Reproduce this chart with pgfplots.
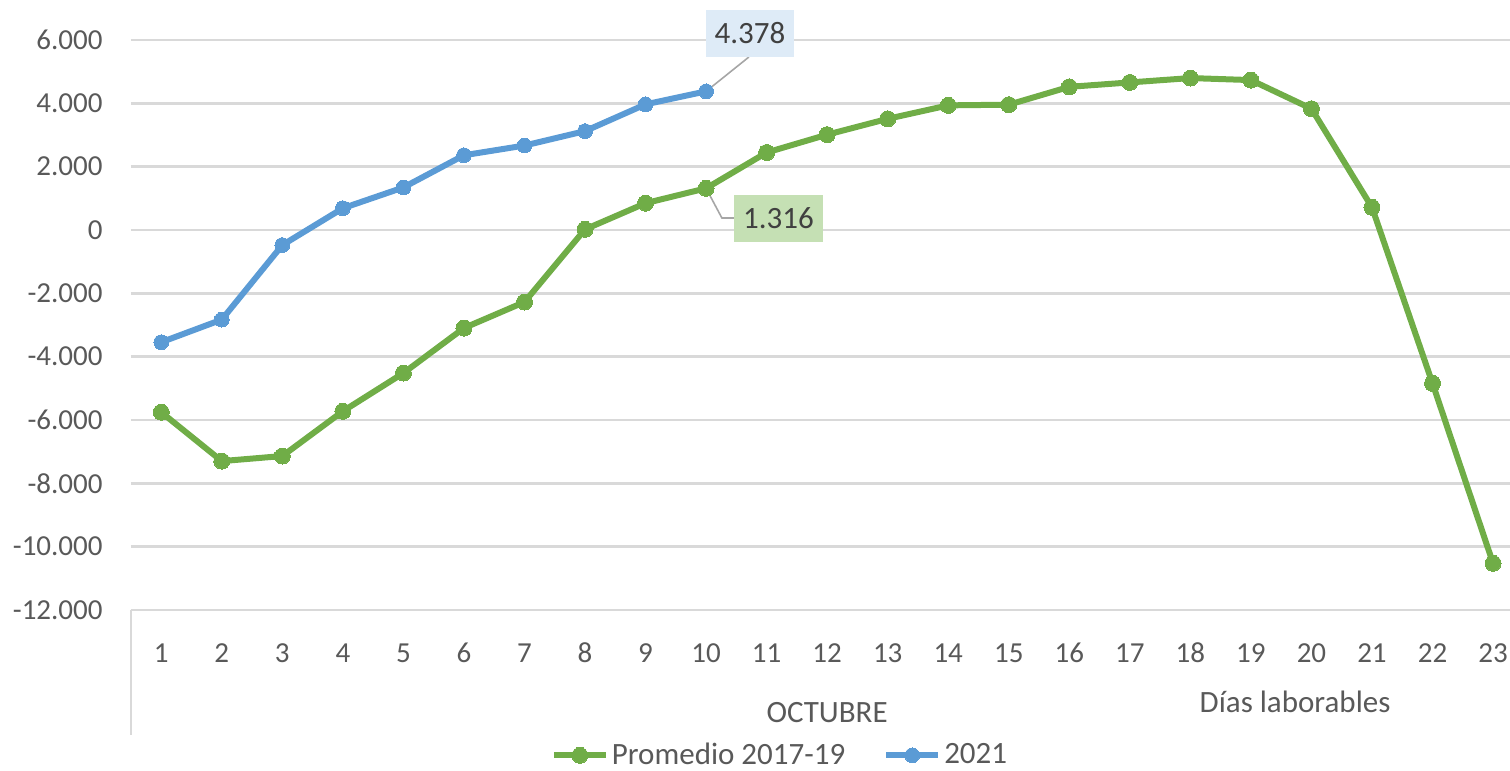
\documentclass[border=0pt]{standalone}
\usepackage{pgfplots}
\pgfplotsset{compat=1.18}
\usepackage{fontspec}
\setmainfont{Carlito}
\definecolor{xlgreen}{HTML}{70AD47}
\definecolor{xlblue}{HTML}{5B9BD5}
\definecolor{gridgray}{HTML}{D9D9D9}
\definecolor{ticktext}{HTML}{595959}
\definecolor{labtext}{HTML}{404040}
\definecolor{bluefill}{HTML}{DEEBF7}
\definecolor{greenfill}{HTML}{C5E0B4}
\definecolor{leader}{HTML}{A6A6A6}
\begin{document}
\begin{tikzpicture}
\useasboundingbox (-65.5pt,-80.5pt) rectangle (689.5pt,305pt);
\begin{axis}[
  scale only axis,
  width=689.5pt, height=285pt,
  xmin=0.5, xmax=23.28,
  ymin=-12000, ymax=6000,
  xtick={1,...,23},
  xticklabels={1,2,3,4,5,6,7,8,9,10,11,12,13,14,15,16,17,18,19,20,21,22,23},
  ytick={-12000,-10000,-8000,-6000,-4000,-2000,0,2000,4000,6000},
  yticklabels={-12.000,-10.000,-8.000,-6.000,-4.000,-2.000,0,2.000,4.000,6.000},
  scaled y ticks=false,
  ymajorgrids,
  grid style={gridgray, line width=1.2pt},
  axis line style={draw=none},
  major tick length=0pt,
  tick label style={font=\fontsize{14.5}{17}\selectfont, text=ticktext},
  yticklabel style={anchor=east, inner sep=0pt, xshift=-14pt},
  xticklabel style={anchor=base, inner sep=0pt, yshift=-26pt},
  clip=false,
  legend columns=2,
  legend style={at={(0.471,-0.255)}, anchor=center, draw=none, fill=none,
    font=\fontsize{15.5}{18}\selectfont, text=ticktext,
    nodes={inner sep=1.5pt},
    /tikz/every even column/.append style={column sep=17.5pt}},
  legend image code/.code={
    \draw[#1, mark repeat=2, mark phase=2] plot coordinates {(0pt,0pt) (13pt,0pt) (26pt,0pt)};
  },
]
\addplot[xlgreen, line width=3pt, line join=round, mark=*, mark size=4pt, mark options={solid, line width=0pt}]
coordinates {(1,-5755) (2,-7298) (3,-7138) (4,-5723) (5,-4518) (6,-3096) (7,-2275) (8,20)
  (9,847) (10,1316) (11,2447) (12,3011) (13,3511) (14,3936) (15,3957) (16,4521)
  (17,4660) (18,4798) (19,4734) (20,3830) (21,716) (22,-4842) (23,-10526)};
\addlegendentry{Promedio 2017-19}
\addplot[xlblue, line width=3pt, line join=round, mark=*, mark size=3.7pt, mark options={solid, line width=0pt}]
coordinates {(1,-3543) (2,-2830) (3,-476) (4,688) (5,1344) (6,2360) (7,2667) (8,3122)
  (9,3968) (10,4378)};
\addlegendentry{2021}

% data labels
\draw[leader, line width=0.8pt, shorten >=3.5pt] (axis cs:10.707,5463) -- (axis cs:10,4378);
\node[fill=bluefill, minimum width=44pt, minimum height=23.5pt, inner sep=0pt, text=labtext,
  font=\fontsize{15.5}{18}\selectfont] at (axis cs:10.724,6205) {4.378};
\draw[leader, line width=0.8pt, shorten <=3.5pt] (axis cs:10,1316) -- (axis cs:10.261,379) -- (axis cs:10.46,379);
\node[fill=greenfill, minimum width=44.5pt, minimum height=23.5pt, inner sep=0pt, text=labtext,
  font=\fontsize{15.5}{18}\selectfont] at (axis cs:11.194,363) {1.316};

% category axis
\draw[gridgray, line width=1.2pt] (axis cs:0.5,-12000) -- ([yshift=-62.5pt]axis cs:0.5,-12000);
\node[anchor=base, inner sep=0pt, text=ticktext, font=\fontsize{15.5}{18}\selectfont]
  at ([yshift=-56pt]axis cs:12,-12000) {OCTUBRE};
\node[anchor=base, inner sep=0pt, text=ticktext, font=\fontsize{15.5}{18}\selectfont]
  at ([yshift=-51pt]axis cs:19.73,-12000) {Días laborables};
\end{axis}
\end{tikzpicture}
\end{document}
